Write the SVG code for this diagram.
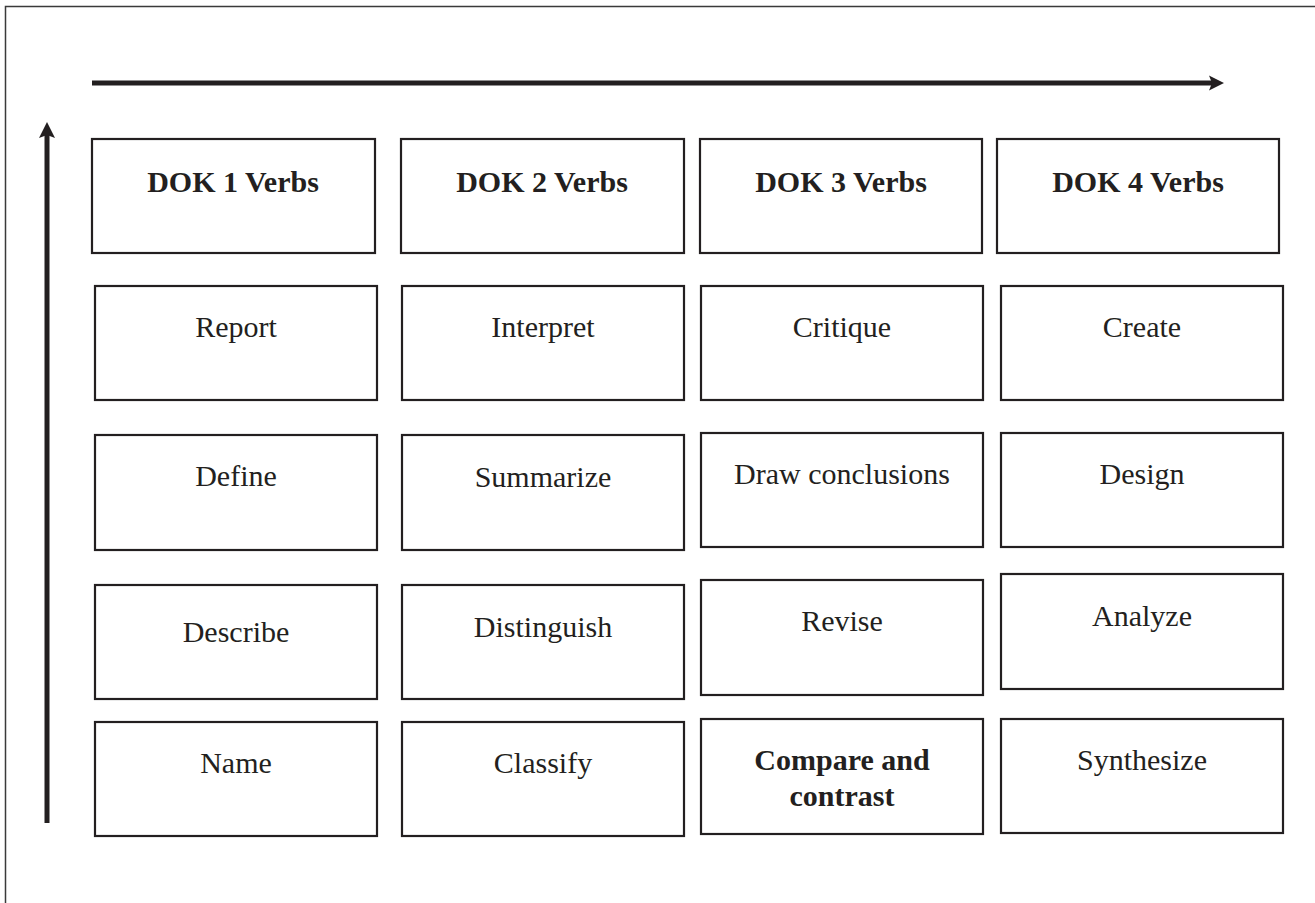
<svg xmlns="http://www.w3.org/2000/svg" width="1315" height="903" viewBox="0 0 1315 903">
<style>
.box{fill:#fff;stroke:#231f20;stroke-width:2.2}
.t{font-family:"Liberation Serif","Times New Roman",serif;font-size:30px;fill:#231f20;text-anchor:middle}
.b{font-weight:bold}
.ax{stroke:#231f20;stroke-width:5;fill:none}
.hd{fill:#231f20}
</style>
<rect x="0" y="0" width="1315" height="903" fill="#fff"/>
<rect x="5.5" y="6.5" width="1330" height="920" fill="none" stroke="#3a3a3a" stroke-width="1.5"/>
<g id="connectors">
<line class="ax" x1="92" y1="83" x2="1212" y2="83"/>
<polygon class="hd" points="1224,83 1209,75.5 1212,83 1209,90.5"/>
<line class="ax" x1="47" y1="823" x2="47" y2="134"/>
<polygon class="hd" points="47,122 39,138 47,135 55,138"/>
</g>
<g id="h1"><rect class="box" x="92" y="139" width="283" height="114"/><text class="t b" x="233" y="192">DOK 1 Verbs</text></g>
<g id="h2"><rect class="box" x="401" y="139" width="283" height="114"/><text class="t b" x="542" y="192">DOK 2 Verbs</text></g>
<g id="h3"><rect class="box" x="700" y="139" width="282" height="114"/><text class="t b" x="841" y="192">DOK 3 Verbs</text></g>
<g id="h4"><rect class="box" x="997" y="139" width="282" height="114"/><text class="t b" x="1138" y="192">DOK 4 Verbs</text></g>

<g id="report"><rect class="box" x="95" y="286" width="282" height="114"/><text class="t" x="236" y="337">Report</text></g>
<g id="interpret"><rect class="box" x="402" y="286" width="282" height="114"/><text class="t" x="543" y="337">Interpret</text></g>
<g id="critique"><rect class="box" x="701" y="286" width="282" height="114"/><text class="t" x="842" y="337">Critique</text></g>
<g id="create"><rect class="box" x="1001" y="286" width="282" height="114"/><text class="t" x="1142" y="337">Create</text></g>

<g id="define"><rect class="box" x="95" y="435" width="282" height="115"/><text class="t" x="236" y="486">Define</text></g>
<g id="summarize"><rect class="box" x="402" y="435" width="282" height="115"/><text class="t" x="543" y="487">Summarize</text></g>
<g id="drawconclusions"><rect class="box" x="701" y="433" width="282" height="114"/><text class="t" x="842" y="484">Draw conclusions</text></g>
<g id="design"><rect class="box" x="1001" y="433" width="282" height="114"/><text class="t" x="1142" y="484">Design</text></g>

<g id="describe"><rect class="box" x="95" y="585" width="282" height="114"/><text class="t" x="236" y="642">Describe</text></g>
<g id="distinguish"><rect class="box" x="402" y="585" width="282" height="114"/><text class="t" x="543" y="637">Distinguish</text></g>
<g id="revise"><rect class="box" x="701" y="580" width="282" height="115"/><text class="t" x="842" y="631">Revise</text></g>
<g id="analyze"><rect class="box" x="1001" y="574" width="282" height="115"/><text class="t" x="1142" y="626">Analyze</text></g>

<g id="name"><rect class="box" x="95" y="722" width="282" height="114"/><text class="t" x="236" y="773">Name</text></g>
<g id="classify"><rect class="box" x="402" y="722" width="282" height="114"/><text class="t" x="543" y="773">Classify</text></g>
<g id="compare"><rect class="box" x="701" y="719" width="282" height="115"/><text class="t b" x="842" y="770">Compare and</text><text class="t b" x="842" y="806">contrast</text></g>
<g id="synthesize"><rect class="box" x="1001" y="719" width="282" height="114"/><text class="t" x="1142" y="770">Synthesize</text></g>
</svg>
